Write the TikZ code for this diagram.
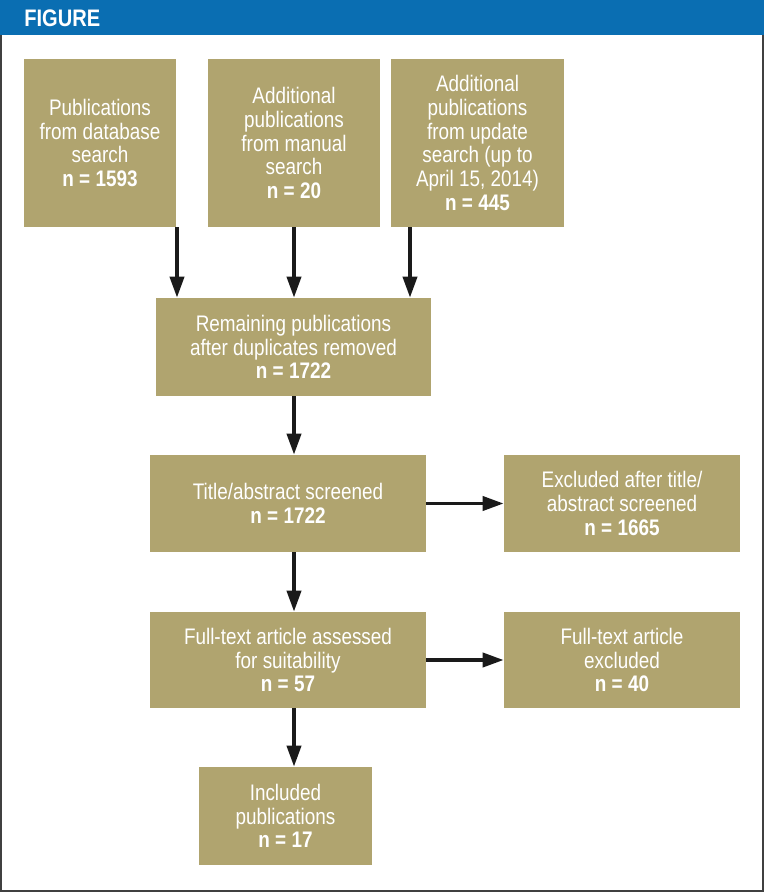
\documentclass[tikz,border=0pt]{standalone}
\usepackage{fontspec}
\setmainfont{Liberation Sans}[FakeStretch=0.84]
\usetikzlibrary{arrows.meta,positioning,calc}
\definecolor{Head}{HTML}{0A6EB2}
\definecolor{Khaki}{HTML}{B0A46F}
\definecolor{Ink}{HTML}{1A1A1A}
\definecolor{Frame}{HTML}{404040}
\tikzset{
 box/.style={fill=Khaki, text=white, align=center, inner sep=2pt, font=\fontsize{16}{16.8}\selectfont},
 arrow/.style={-{Triangle[length=15pt,width=10pt]}, line width=2.7pt, draw=Ink}
}

\begin{document}
\begin{tikzpicture}[x=0.025cm,y=-0.025cm]
\useasboundingbox (0,0) rectangle (764,892);
\draw[Frame,line width=1.8pt] (1,1) rectangle (763,891);
\fill[Head] (0,0) rectangle (764,35);
\node[anchor=west,text=white,font=\fontsize{17}{18}\selectfont\bfseries,inner sep=0pt] (title) at (24,18) {FIGURE};
% sources
\node[box,minimum width=3.8cm,minimum height=4.2cm] (db) at (100,143) {Publications\\from database\\search\\\textbf{n = 1593}};
\node[box,minimum width=4.3cm,minimum height=4.2cm] (manual) at (294,143) {Additional\\publications\\from manual\\search\\\textbf{n = 20}};
\node[box,minimum width=4.325cm,minimum height=4.2cm] (update) at (477.5,143) {Additional\\publications\\from update\\search (up to\\April 15, 2014)\\\textbf{n = 445}};
% screening
\node[box,minimum width=6.875cm,minimum height=2.45cm] (dedup) at (293.5,347) {Remaining publications\\after duplicates removed\\\textbf{n = 1722}};
\node[box,minimum width=6.9cm,minimum height=2.425cm] (screen) at (288,503.5) {Title/abstract screened\\\textbf{n = 1722}};
\node[box,minimum width=5.9cm,minimum height=2.425cm] (excl1) at (622,503.5) {Excluded after title/\\abstract screened\\\textbf{n = 1665}};
\node[box,minimum width=6.9cm,minimum height=2.4cm] (full) at (288,660) {Full-text article assessed\\for suitability\\\textbf{n = 57}};
\node[box,minimum width=5.9cm,minimum height=2.4cm] (excl2) at (622,660) {Full-text article\\excluded\\\textbf{n = 40}};
\node[box,minimum width=4.325cm,minimum height=2.45cm] (incl) at (285.5,816) {Included\\publications\\\textbf{n = 17}};
\coordinate (c1) at (177,0);
\coordinate (c2) at (294,0);
\coordinate (c3) at (410,0);
\draw[arrow] (c1 |- db.south) -- (c1 |- dedup.north);
\draw[arrow] (c2 |- manual.south) -- (c2 |- dedup.north);
\draw[arrow] (c3 |- update.south) -- (c3 |- dedup.north);
\draw[arrow] (c2 |- dedup.south) -- (c2 |- screen.north);
\draw[arrow] (c2 |- screen.south) -- (c2 |- full.north);
\draw[arrow] (c2 |- full.south) -- (c2 |- incl.north);
\draw[arrow] (screen.east) -- (excl1.west);
\draw[arrow] (full.east) -- (excl2.west);
\end{tikzpicture}
\end{document}
